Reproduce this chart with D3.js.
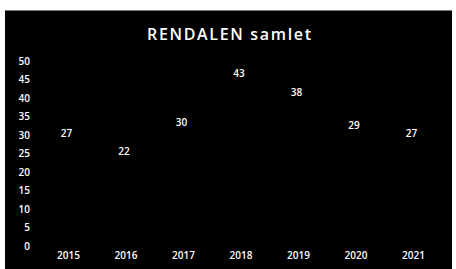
<!DOCTYPE html>
<html>
<head>
<meta charset="utf-8">
<script src="https://cdn.jsdelivr.net/npm/d3@7"></script>
<style>
  body { margin: 0; background: #fff; }
  svg text { font-family: "Open Sans", "DejaVu Sans", sans-serif; fill: #fff; }
</style>
</head>
<body>
<div id="chart"></div>
<script>
// data
var years = ["2015", "2016", "2017", "2018", "2019", "2020", "2021"];
var antall = [27, 22, 30, 43, 38, 29, 27];
var yTicks = [0, 5, 10, 15, 20, 25, 30, 35, 40, 45, 50];
var tittel = "RENDALEN samlet";

var width = 456, height = 269;

var svg = d3.select("#chart").append("svg")
    .attr("width", width)
    .attr("height", height);

// black panel
svg.append("rect")
    .attr("x", 5).attr("y", 10)
    .attr("width", 447).attr("height", 259)
    .attr("fill", "#000");
svg.append("line")
    .attr("x1", 5).attr("x2", 452)
    .attr("y1", 10.5).attr("y2", 10.5)
    .attr("stroke", "#777").attr("stroke-width", 1);

var x = d3.scalePoint()
    .domain(years)
    .range([39.25, 441.75])
    .padding(0.5);

var y = d3.scaleLinear()
    .domain([0, 50])
    .range([246, 61]);

// title
svg.append("text")
    .attr("x", 229).attr("y", 34)
    .attr("text-anchor", "middle")
    .attr("dominant-baseline", "central")
    .attr("textLength", 164)
    .attr("lengthAdjust", "spacing")
    .style("font-size", "16px")
    .style("font-weight", 600)
    .text(tittel);

// y axis
var yAxis = svg.append("g")
    .attr("transform", "translate(40,0)")
    .call(d3.axisLeft(y).tickValues(yTicks).tickSize(0).tickPadding(10));
yAxis.select(".domain").remove();
yAxis.selectAll("text")
    .attr("fill", "#fff")
    .style("font-size", "10px")
    .style("font-weight", 600)
    .style("font-family", "\"Open Sans\", sans-serif");

// x axis
var xAxis = svg.append("g")
    .attr("transform", "translate(0,246)")
    .call(d3.axisBottom(x).tickSize(0).tickPadding(9));
xAxis.select(".domain").remove();
xAxis.selectAll("text")
    .attr("dy", "0.35em")
    .attr("fill", "#fff")
    .style("font-size", "10px")
    .style("font-weight", 600)
    .style("font-family", "\"Open Sans\", sans-serif");

// data labels (no visible line/markers)
svg.selectAll(".etikett")
    .data(antall)
    .enter().append("text")
    .attr("class", "etikett")
    .attr("x", function(d, i) { return x(years[i]) - 1.5; })
    .attr("y", function(d) { return y(d) - 13.5; })
    .attr("text-anchor", "middle")
    .attr("dominant-baseline", "central")
    .style("font-size", "10px")
    .style("font-weight", 600)
    .text(function(d) { return d; });
</script>
</body>
</html>
